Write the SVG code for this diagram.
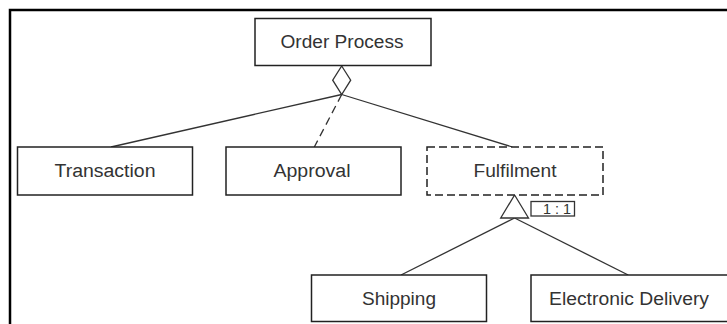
<svg xmlns="http://www.w3.org/2000/svg" width="727" height="324" viewBox="0 0 727 324">
<style>
.box{fill:#fff;stroke:#222;stroke-width:1.5}
.dbox{fill:#fff;stroke:#222;stroke-width:1.5;stroke-dasharray:8 4}
.lbl{font-family:"Liberation Sans",Arial,sans-serif;font-size:18px;fill:#333;text-anchor:middle}
.ln{stroke:#333;stroke-width:1.3;fill:none}
.frame{stroke:#000;stroke-width:2.5;fill:none}
</style>
<rect width="727" height="324" fill="#fff"/>
<path class="frame" d="M10,335 V10 H727"/>
<g id="connectors">
<line class="ln" x1="341.7" y1="94.5" x2="111" y2="147"/>
<line class="ln" x1="341.7" y1="94.5" x2="314.3" y2="147" stroke-dasharray="8 5"/>
<line class="ln" x1="341.7" y1="94.5" x2="512.3" y2="147"/>
<polygon points="341.7,66 350.7,80.2 341.7,94.5 332.7,80.2" fill="#fff" stroke="#333" stroke-width="1.3"/>
<line class="ln" x1="514.6" y1="218" x2="401" y2="275"/>
<line class="ln" x1="514.6" y1="218" x2="628.2" y2="275"/>
<polygon points="514.6,195 528.5,218 500.7,218" fill="#fff" stroke="#333" stroke-width="1.3"/>
<rect x="531" y="201.5" width="43.5" height="14.5" fill="#fff" stroke="#333" stroke-width="1.3"/>
<text x="557" y="213.5" font-family="'Liberation Sans',Arial,sans-serif" font-size="14" fill="#333" text-anchor="middle" textLength="28" lengthAdjust="spacingAndGlyphs">1 : 1</text>
</g>
<g id="order-process">
<rect class="box" x="255" y="18.5" width="176" height="47"/>
<text class="lbl" x="342" y="47.5" textLength="123" lengthAdjust="spacingAndGlyphs">Order Process</text>
</g>
<g id="transaction">
<rect class="box" x="17.5" y="147" width="175" height="48"/>
<text class="lbl" x="105" y="177" textLength="101" lengthAdjust="spacingAndGlyphs">Transaction</text>
</g>
<g id="approval">
<rect class="box" x="226" y="147" width="175" height="48"/>
<text class="lbl" x="312" y="177" textLength="77" lengthAdjust="spacingAndGlyphs">Approval</text>
</g>
<g id="fulfilment">
<rect class="dbox" x="427" y="147" width="176" height="48"/>
<text class="lbl" x="515" y="177" textLength="83" lengthAdjust="spacingAndGlyphs">Fulfilment</text>
</g>
<g id="shipping">
<rect class="box" x="311.5" y="275" width="175" height="46.5"/>
<text class="lbl" x="399" y="304.5" textLength="74" lengthAdjust="spacingAndGlyphs">Shipping</text>
</g>
<g id="electronic-delivery">
<rect class="box" x="531" y="275" width="210" height="46.5"/>
<text class="lbl" x="629" y="304.5" textLength="160" lengthAdjust="spacingAndGlyphs">Electronic Delivery</text>
</g>
</svg>
